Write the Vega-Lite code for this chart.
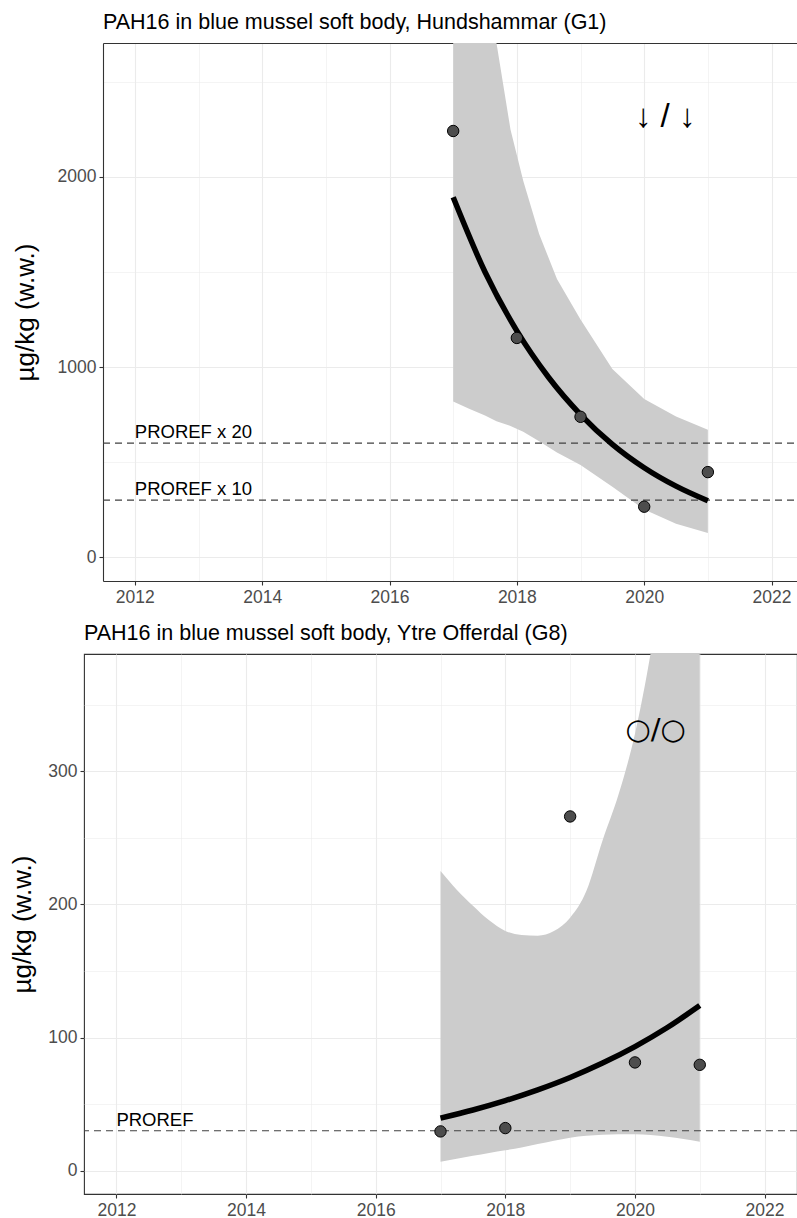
{
  "$schema": "https://vega.github.io/schema/vega-lite/v6.json",
  "background": "white",
  "padding": {"left": 9, "top": 11, "right": 0, "bottom": 0},
  "spacing": 15,
  "config": {
    "font": "Liberation Sans",
    "view": {"stroke": "#333333", "strokeWidth": 1.1},
    "axis": {
      "domain": false,
      "grid": true,
      "gridColor": "#ebebeb",
      "tickColor": "#333333",
      "tickSize": 4,
      "tickWidth": 1.1,
      "labelColor": "#4d4d4d",
      "labelFontSize": 17.5,
      "labelFont": "Liberation Sans",
      "labelPadding": 3,
      "titleFont": "Liberation Sans",
      "titleFontWeight": "normal",
      "titleColor": "black",
      "titleFontSize": 26
    },
    "title": {"anchor": "start", "frame": "group", "fontSize": 21.5, "fontWeight": "normal", "color": "black", "offset": 10, "font": "Liberation Sans"}
  },
  "datasets": {
    "top_points": [
      {"year": 2017, "value": 2242},
      {"year": 2018, "value": 1153},
      {"year": 2019, "value": 738},
      {"year": 2020, "value": 265},
      {"year": 2021, "value": 447}
    ],
    "top_band": [
      {"year": 2017, "lo": 818, "hi": 4500},
      {"year": 2017.25, "lo": 780, "hi": 3700},
      {"year": 2017.5, "lo": 745, "hi": 3100},
      {"year": 2017.68, "lo": 715, "hi": 2705},
      {"year": 2017.9, "lo": 690, "hi": 2250},
      {"year": 2018.1, "lo": 660, "hi": 1980},
      {"year": 2018.35, "lo": 610, "hi": 1700},
      {"year": 2018.63, "lo": 550, "hi": 1463},
      {"year": 2019, "lo": 484, "hi": 1250},
      {"year": 2019.5, "lo": 370, "hi": 990},
      {"year": 2020, "lo": 250, "hi": 832},
      {"year": 2020.5, "lo": 175, "hi": 740},
      {"year": 2021, "lo": 126, "hi": 670}
    ],
    "top_fit": [
      {"year": 2017, "fit": 1893},
      {"year": 2017.5, "fit": 1500},
      {"year": 2018, "fit": 1190},
      {"year": 2018.5, "fit": 945},
      {"year": 2019, "fit": 750},
      {"year": 2019.5, "fit": 593},
      {"year": 2020, "fit": 470},
      {"year": 2020.5, "fit": 373},
      {"year": 2021, "fit": 296}
    ],
    "top_ref": [
      {"value": 600, "label": "PROREF x 20"},
      {"value": 300, "label": "PROREF x 10"}
    ],
    "top_trend": [{"symbol": "↓ / ↓"}],
    "bot_points": [
      {"year": 2017, "value": 29.5},
      {"year": 2018, "value": 32},
      {"year": 2019, "value": 266},
      {"year": 2020, "value": 81.3},
      {"year": 2021, "value": 79.5}
    ],
    "bot_band": [
      {"year": 2017, "lo": 6.8, "hi": 225},
      {"year": 2017.25, "lo": 9, "hi": 211},
      {"year": 2017.5, "lo": 11.2, "hi": 199},
      {"year": 2017.75, "lo": 13.3, "hi": 188},
      {"year": 2018, "lo": 15.3, "hi": 180},
      {"year": 2018.25, "lo": 17.5, "hi": 177},
      {"year": 2018.5, "lo": 20, "hi": 176.5},
      {"year": 2018.75, "lo": 22.5, "hi": 180},
      {"year": 2019, "lo": 24.8, "hi": 190},
      {"year": 2019.25, "lo": 26.2, "hi": 210},
      {"year": 2019.5, "lo": 27, "hi": 248},
      {"year": 2019.75, "lo": 27.4, "hi": 283},
      {"year": 2020, "lo": 27.3, "hi": 328},
      {"year": 2020.24, "lo": 26.8, "hi": 388},
      {"year": 2020.5, "lo": 25.5, "hi": 470},
      {"year": 2020.75, "lo": 23.8, "hi": 570},
      {"year": 2021, "lo": 21.8, "hi": 700}
    ],
    "bot_fit": [
      {"year": 2017, "fit": 39.5},
      {"year": 2017.5, "fit": 45.6},
      {"year": 2018, "fit": 52.6},
      {"year": 2018.5, "fit": 60.7},
      {"year": 2019, "fit": 70},
      {"year": 2019.5, "fit": 80.8},
      {"year": 2020, "fit": 93.2},
      {"year": 2020.5, "fit": 107.5},
      {"year": 2021, "fit": 124}
    ],
    "bot_ref": [
      {"value": 30, "label": "PROREF"}
    ],
    "bot_trend": [{"symbol": "○/○"}]
  },
  "vconcat": [
    {
      "width": 713,
      "height": 538,
      "view": {"stroke": null},
      "title": {"text": "PAH16 in blue mussel soft body, Hundshammar (G1)", "dx": 19},
      "resolve": {"axis": {"x": "independent"}},
      "layer": [
        {
          "data": {"name": "top_band"},
          "mark": {"type": "area", "color": "#cccccc", "clip": true},
          "encoding": {
            "x": {"field": "year", "type": "quantitative",
              "scale": {"domain": [2011.5, 2022.4], "range": [19, 713], "nice": false, "zero": false},
              "axis": {"title": null, "domain": true, "domainColor": "#333333", "domainWidth": 1.1, "values": [2012, 2013, 2014, 2015, 2016, 2017, 2018, 2019, 2020, 2021, 2022], "format": "d",
                "labelExpr": "datum.value % 2 == 0 ? datum.label : ''",
                "gridWidth": {"condition": {"test": "datum.value % 2 == 0", "value": 1.1}, "value": 0.55},
                "tickOpacity": {"condition": {"test": "datum.value % 2 == 0", "value": 1}, "value": 0}}},
            "y": {"field": "lo", "type": "quantitative",
              "scale": {"domain": [-126, 2705], "nice": false, "zero": false},
              "axis": {"title": "µg/kg (w.w.)", "titlePadding": 19, "offset": -19, "domain": true, "domainColor": "#333333", "domainWidth": 1.1, "values": [0, 500, 1000, 1500, 2000, 2500],
                "labelExpr": "datum.value % 1000 == 0 ? datum.label : ''", "format": "d",
                "gridWidth": {"condition": {"test": "datum.value % 1000 == 0", "value": 1.1}, "value": 0.55},
                "tickOpacity": {"condition": {"test": "datum.value % 1000 == 0", "value": 1}, "value": 0}}},
            "y2": {"field": "hi"}
          }
        },
        {
          "data": {"name": "top_ref"},
          "mark": {"type": "rule", "color": "#404040", "strokeWidth": 1.2, "strokeDash": [7, 5]},
          "encoding": {
            "x": {"datum": 2011.5, "type": "quantitative", "axis": null, "scale": {"domain": [2011.5, 2022.4], "range": [19, 713], "nice": false, "zero": false}},
            "x2": {"datum": 2022.4},
            "y": {"field": "value", "type": "quantitative", "scale": {"domain": [-126, 2705], "nice": false, "zero": false}}
          }
        },
        {
          "data": {"name": "top_ref"},
          "mark": {"type": "text", "align": "left", "baseline": "alphabetic", "dy": -5, "fontSize": 18.5, "color": "black"},
          "encoding": {
            "x": {"datum": 2012, "type": "quantitative", "axis": null, "scale": {"domain": [2011.5, 2022.4], "range": [19, 713], "nice": false, "zero": false}},
            "y": {"field": "value", "type": "quantitative", "scale": {"domain": [-126, 2705], "nice": false, "zero": false}},
            "text": {"field": "label"}
          }
        },
        {
          "data": {"name": "top_fit"},
          "mark": {"type": "line", "color": "black", "strokeWidth": 5.5, "clip": true, "interpolate": "monotone"},
          "encoding": {
            "x": {"field": "year", "type": "quantitative",
              "scale": {"domain": [2011.5, 2022.4], "range": [19, 713], "nice": false, "zero": false},
              "axis": {"orient": "top", "title": null, "labels": false, "ticks": false, "grid": false, "domain": true, "domainColor": "#333333", "domainWidth": 1.1}},
            "y": {"field": "fit", "type": "quantitative", "scale": {"domain": [-126, 2705], "nice": false, "zero": false}}
          }
        },
        {
          "data": {"name": "top_points"},
          "mark": {"type": "point", "shape": "circle", "filled": true, "size": 130, "fill": "#4d4d4d", "stroke": "black", "strokeWidth": 1, "opacity": 1},
          "encoding": {
            "x": {"field": "year", "type": "quantitative", "axis": null, "scale": {"domain": [2011.5, 2022.4], "range": [19, 713], "nice": false, "zero": false}},
            "y": {"field": "value", "type": "quantitative", "scale": {"domain": [-126, 2705], "nice": false, "zero": false}}
          }
        },
        {
          "data": {"name": "top_trend"},
          "mark": {"type": "text", "align": "center", "baseline": "middle", "fontSize": 33, "color": "black"},
          "encoding": {
            "x": {"datum": 2020.33, "type": "quantitative", "axis": null, "scale": {"domain": [2011.5, 2022.4], "range": [19, 713], "nice": false, "zero": false}},
            "y": {"datum": 2316, "type": "quantitative", "scale": {"domain": [-126, 2705], "nice": false, "zero": false}},
            "text": {"field": "symbol"}
          }
        }
      ]
    },
    {
      "width": 713,
      "height": 540,
      "title": "PAH16 in blue mussel soft body, Ytre Offerdal (G8)",
      "layer": [
        {
          "data": {"name": "bot_band"},
          "mark": {"type": "area", "color": "#cccccc", "clip": true, "interpolate": "monotone"},
          "encoding": {
            "x": {"field": "year", "type": "quantitative",
              "scale": {"domain": [2011.5, 2022.5], "nice": false, "zero": false},
              "axis": {"title": null, "values": [2012, 2013, 2014, 2015, 2016, 2017, 2018, 2019, 2020, 2021, 2022], "format": "d",
                "labelExpr": "datum.value % 2 == 0 ? datum.label : ''",
                "gridWidth": {"condition": {"test": "datum.value % 2 == 0", "value": 1.1}, "value": 0.55},
                "tickOpacity": {"condition": {"test": "datum.value % 2 == 0", "value": 1}, "value": 0}}},
            "y": {"field": "lo", "type": "quantitative",
              "scale": {"domain": [-17.5, 388], "nice": false, "zero": false},
              "axis": {"title": "µg/kg (w.w.)", "titlePadding": 12, "values": [0, 50, 100, 150, 200, 250, 300, 350],
                "labelExpr": "datum.value % 100 == 0 ? datum.label : ''", "format": "d",
                "gridWidth": {"condition": {"test": "datum.value % 100 == 0", "value": 1.1}, "value": 0.55},
                "tickOpacity": {"condition": {"test": "datum.value % 100 == 0", "value": 1}, "value": 0}}},
            "y2": {"field": "hi"}
          }
        },
        {
          "data": {"name": "bot_ref"},
          "mark": {"type": "rule", "color": "#404040", "strokeWidth": 1.2, "strokeDash": [7, 5]},
          "encoding": {
            "y": {"field": "value", "type": "quantitative", "scale": {"domain": [-17.5, 388], "nice": false, "zero": false}}
          }
        },
        {
          "data": {"name": "bot_ref"},
          "mark": {"type": "text", "align": "left", "baseline": "alphabetic", "dy": -5, "fontSize": 18.5, "color": "black"},
          "encoding": {
            "x": {"datum": 2012, "type": "quantitative", "scale": {"domain": [2011.5, 2022.5], "nice": false, "zero": false}},
            "y": {"field": "value", "type": "quantitative", "scale": {"domain": [-17.5, 388], "nice": false, "zero": false}},
            "text": {"field": "label"}
          }
        },
        {
          "data": {"name": "bot_fit"},
          "mark": {"type": "line", "color": "black", "strokeWidth": 5.5, "clip": true, "interpolate": "monotone"},
          "encoding": {
            "x": {"field": "year", "type": "quantitative", "scale": {"domain": [2011.5, 2022.5], "nice": false, "zero": false}},
            "y": {"field": "fit", "type": "quantitative", "scale": {"domain": [-17.5, 388], "nice": false, "zero": false}}
          }
        },
        {
          "data": {"name": "bot_points"},
          "mark": {"type": "point", "shape": "circle", "filled": true, "size": 130, "fill": "#4d4d4d", "stroke": "black", "strokeWidth": 1, "opacity": 1},
          "encoding": {
            "x": {"field": "year", "type": "quantitative", "scale": {"domain": [2011.5, 2022.5], "nice": false, "zero": false}},
            "y": {"field": "value", "type": "quantitative", "scale": {"domain": [-17.5, 388], "nice": false, "zero": false}}
          }
        },
        {
          "data": {"name": "bot_trend"},
          "mark": {"type": "text", "align": "center", "baseline": "middle", "fontSize": 29, "font": "DejaVu Sans", "color": "black"},
          "encoding": {
            "x": {"datum": 2020.32, "type": "quantitative", "scale": {"domain": [2011.5, 2022.5], "nice": false, "zero": false}},
            "y": {"datum": 331, "type": "quantitative", "scale": {"domain": [-17.5, 388], "nice": false, "zero": false}},
            "text": {"field": "symbol"}
          }
        }
      ]
    }
  ]
}
